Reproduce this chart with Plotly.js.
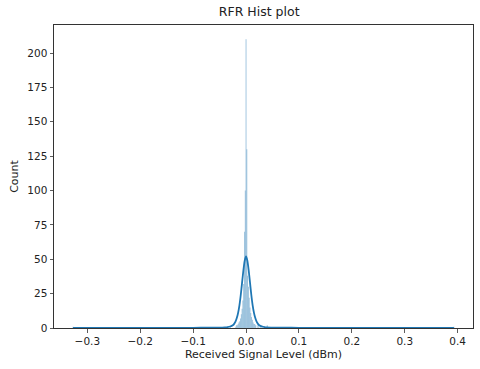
<!DOCTYPE html>
<html>
<head>
<meta charset="utf-8">
<script src="https://cdn.plot.ly/plotly-3.0.1.min.js"></script>
<style>
  html, body { margin: 0; padding: 0; background: #fff; }
  #chart { width: 480px; height: 369px; }
</style>
</head>
<body>
<div id="chart"></div>
<script>
// histogram bins (centre, count)
const binCenters = [-0.327, -0.03, -0.0195, -0.018, -0.0165, -0.015, -0.0135, -0.012, -0.0105, -0.009, -0.0075, -0.006, -0.0045, -0.003, -0.0015,
    0, 0.0015, 0.003, 0.0045, 0.006, 0.0075, 0.009, 0.0105, 0.012, 0.0135, 0.015, 0.0165, 0.018, 0.021, 0.024, 0.027, 0.03, 0.035, 0.04, 0.045, 0.393];
const binCounts = [1, 1, 1, 2, 2, 3, 4, 5, 7, 10, 14, 20, 32, 70, 100,
    210, 130, 38, 30, 22, 15, 11, 8, 6, 4, 3, 3, 2, 2, 2, 1, 2, 1, 2, 1, 1];

// kde line (scaled to counts)
const kdeX = [-0.327, -0.25, -0.2, -0.15, -0.1, -0.07, -0.05, -0.04, -0.035, -0.03, -0.025, -0.0225, -0.02, -0.0175, -0.015, -0.0125, -0.01, -0.0075, -0.005, -0.0025,
    0, 0.0025, 0.005, 0.0075, 0.01, 0.0125, 0.015, 0.0175, 0.02, 0.0225, 0.025, 0.03, 0.035, 0.04, 0.05, 0.07, 0.1, 0.15, 0.2, 0.3, 0.393];
const kdeY = [0.1, 0.1, 0.1, 0.1, 0.15, 0.2, 0.3, 0.5, 0.7, 1.1, 2.0, 3.0, 4.6, 7.2, 11, 16.5, 24, 33, 42, 49,
    52, 49, 42, 33, 24, 16.5, 11, 7.2, 4.6, 3.0, 2.0, 1.1, 0.7, 0.5, 0.3, 0.2, 0.15, 0.1, 0.1, 0.1, 0.1];

const xTicks = [-0.3, -0.2, -0.1, 0, 0.1, 0.2, 0.3, 0.4];
const yTicks = [0, 25, 50, 75, 100, 125, 150, 175, 200];

const bars = {
    x: binCenters,
    y: binCounts,
    type: 'bar',
    width: 0.0015,
    marker: { color: 'rgba(31,119,180,0.55)', line: { color: 'rgba(255,255,255,0.3)', width: 0.3 } },
    hoverinfo: 'x+y'
};
const kde = {
    x: kdeX,
    y: kdeY,
    type: 'scatter',
    mode: 'lines',
    line: { color: '#1f77b4', width: 1.8, shape: 'spline', smoothing: 0.5 }
};

const axisBase = {
    showline: true, mirror: true, linecolor: '#333', linewidth: 1,
    ticks: 'outside', ticklen: 3.5, tickwidth: 0.8, tickcolor: '#333',
    showgrid: false, zeroline: false,
    tickfont: { family: 'DejaVu Sans', size: 10.5, color: '#222' }
};

const layout = {
    width: 480, height: 369,
    margin: { l: 54, r: 7, t: 25, b: 41 },
    paper_bgcolor: '#fff', plot_bgcolor: '#fff',
    showlegend: false,
    bargap: 0,
    title: { text: 'RFR Hist plot', font: { family: 'DejaVu Sans', size: 12.5, color: '#222' }, x: 0.54, xanchor: 'center', y: 0.968, yanchor: 'middle' },
    xaxis: Object.assign({}, axisBase, {
        range: [-0.363, 0.429], tickvals: xTicks, tickformat: '.1f',
        title: { text: 'Received Signal Level (dBm)', font: { family: 'DejaVu Sans', size: 11, color: '#222' }, standoff: 4 }
    }),
    yaxis: Object.assign({}, axisBase, {
        range: [0, 220.4], tickvals: yTicks,
        title: { text: 'Count', font: { family: 'DejaVu Sans', size: 11, color: '#222' }, standoff: 6 }
    })
};

Plotly.newPlot('chart', [bars, kde], layout, { displayModeBar: false, staticPlot: true });
</script>
</body>
</html>
